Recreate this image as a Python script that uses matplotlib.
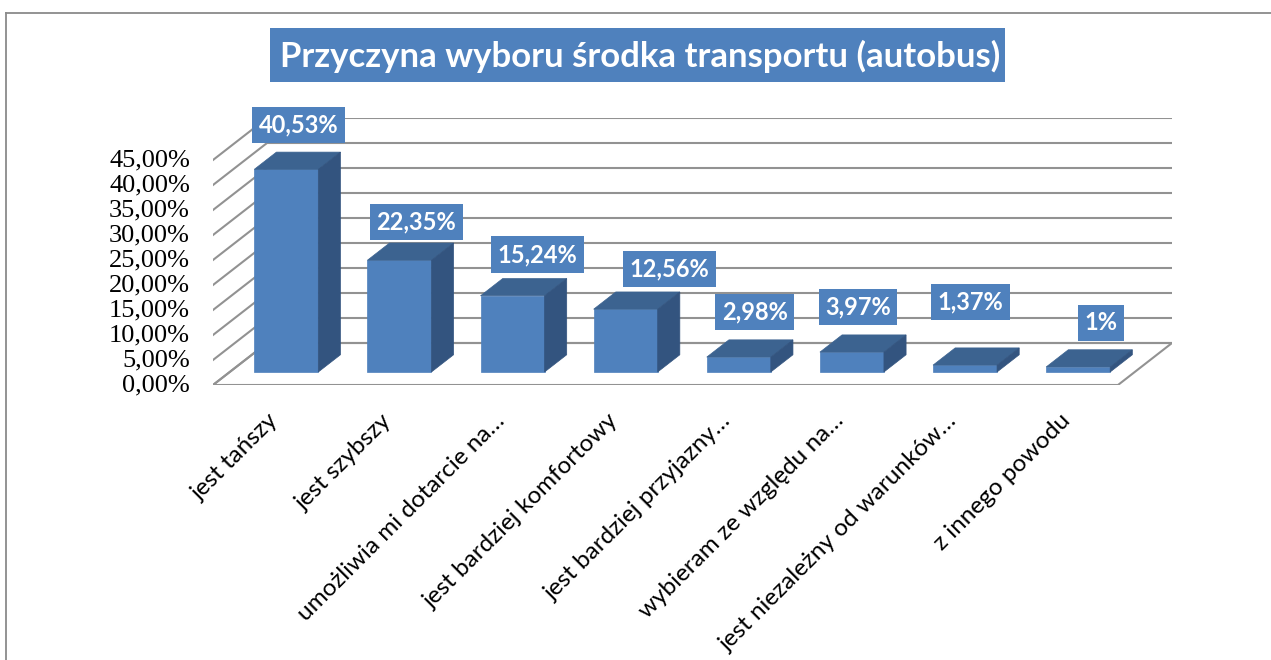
import matplotlib
matplotlib.use('Agg')
import matplotlib.pyplot as plt
import matplotlib.transforms as mtransforms
from matplotlib.patches import Polygon, Rectangle
from matplotlib.lines import Line2D

# Data
categories = [
    'jest tańszy',
    'jest szybszy',
    'umożliwia mi dotarcie na…',
    'jest bardziej komfortowy',
    'jest bardziej przyjazny…',
    'wybieram ze względu na…',
    'jest niezależny od warunków…',
    'z innego powodu',
]
values = [40.53, 22.35, 15.24, 12.56, 2.98, 3.97, 1.37, 1.0]
value_labels = ['40,53%', '22,35%', '15,24%', '12,56%', '2,98%', '3,97%', '1,37%', '1%']
y_ticks = [0, 5, 10, 15, 20, 25, 30, 35, 40, 45]
y_tick_labels = ['0,00%', '5,00%', '10,00%', '15,00%', '20,00%',
                 '25,00%', '30,00%', '35,00%', '40,00%', '45,00%']
title = 'Przyczyna wyboru środka transportu (autobus)'

# Layout (pixels of the 1271x660 picture)
W, H, DPI = 1271, 660, 100
FRONT_LEFT, BACK_RIGHT = 213, 1172
FLOOR_FRONT_Y, TOP_BACK_Y = 385, 118
SLOT_PX = 113.125
DEPTH_X = 54 / SLOT_PX       # depth shift in category units
DEPTH_Y = 42 / 5.0           # depth shift in percent units
BAR_W = 0.566
Z_FRONT, Z_BACK = 0.31, 0.72
# manual nudges of the value boxes (px right, px up), like in the original sheet
LABEL_NUDGE = [(1, 9), (6, 3), (14, 6), (33, 5), (5, 10), (-5, 10), (-6, 28), (12, 9)]

BLUE = '#4F81BD'
TOP_C = '#3C6390'
SIDE_C = '#33547F'
GRID_C = '#929292'


def fx(px):
    return px / W


def fy(py):
    return 1 - py / H


fig = plt.figure(figsize=(W / DPI, H / DPI), dpi=DPI)
fig.patch.set_facecolor('white')

# chart border (cut off at right and bottom)
fig.add_artist(Line2D([fx(6), 1.01], [fy(13), fy(13)], color='#8a8a8a', lw=1.3))
fig.add_artist(Line2D([fx(6), fx(6)], [fy(13), -0.01], color='#8a8a8a', lw=1.3))

# title box
fig.add_artist(Rectangle((fx(270), fy(82)), (1005 - 270) / W, 54 / H,
                         facecolor=BLUE, edgecolor='none'))
fig.text(fx(640), fy(56), title, color='white', fontsize=25, fontweight='bold',
         family='Lato', ha='center', va='center')

ax = fig.add_axes([fx(FRONT_LEFT), fy(FLOOR_FRONT_Y),
                   (BACK_RIGHT - FRONT_LEFT) / W, (FLOOR_FRONT_Y - TOP_BACK_Y) / H])
n = len(categories)
ax.set_xlim(0, n + DEPTH_X)
ax.set_ylim(0, max(y_ticks) + DEPTH_Y)
ax.set_axis_off()

# floor
ax.add_patch(Polygon([(0, 0), (n, 0), (n + DEPTH_X, DEPTH_Y), (DEPTH_X, DEPTH_Y)],
                     closed=True, facecolor='white', edgecolor=GRID_C, lw=1.5, zorder=1))

# back wall and side wall gridlines
for t in y_ticks:
    ax.plot([DEPTH_X, n + DEPTH_X], [t + DEPTH_Y, t + DEPTH_Y], color=GRID_C, lw=1.5, zorder=2)
    ax.plot([0, DEPTH_X], [t, t + DEPTH_Y], color=GRID_C, lw=1.5, zorder=2)

# bars drawn as three faces
for i, v in enumerate(values):
    x0 = i + 0.5 - BAR_W / 2
    x1 = x0 + BAR_W
    fdx, fdy = Z_FRONT * DEPTH_X, Z_FRONT * DEPTH_Y
    bdx, bdy = Z_BACK * DEPTH_X, Z_BACK * DEPTH_Y
    front = [(x0 + fdx, fdy), (x1 + fdx, fdy), (x1 + fdx, v + fdy), (x0 + fdx, v + fdy)]
    top = [(x0 + fdx, v + fdy), (x1 + fdx, v + fdy), (x1 + bdx, v + bdy), (x0 + bdx, v + bdy)]
    side = [(x1 + fdx, fdy), (x1 + bdx, bdy), (x1 + bdx, v + bdy), (x1 + fdx, v + fdy)]
    ax.add_patch(Polygon(front, closed=True, facecolor=BLUE, edgecolor=BLUE, lw=0.5, zorder=5))
    ax.add_patch(Polygon(top, closed=True, facecolor=TOP_C, edgecolor=TOP_C, lw=0.5, zorder=5))
    ax.add_patch(Polygon(side, closed=True, facecolor=SIDE_C, edgecolor=SIDE_C, lw=0.5, zorder=5))

    # value label box
    lab_fs = 17
    pad = 0.28
    pad_px = pad * lab_fs / 0.72
    ndx, ndy = LABEL_NUDGE[i]
    ax.annotate(value_labels[i],
                xy=(i + 0.5 + (Z_FRONT + Z_BACK) / 2 * DEPTH_X, v + bdy),
                xytext=(ndx * 0.72, (ndy + pad_px) * 0.72), textcoords='offset points',
                ha='center', va='bottom', color='white', fontsize=lab_fs,
                fontweight='bold', family='Lato', zorder=10,
                bbox=dict(boxstyle='square,pad=%g' % pad, facecolor=BLUE, edgecolor='none'))

# y tick labels on the front left edge
ytrans = ax.transData + mtransforms.ScaledTranslation(-23 / DPI, 0, fig.dpi_scale_trans)
for t, lab in zip(y_ticks, y_tick_labels):
    ax.text(0, t, lab, transform=ytrans, ha='right', va='center',
            fontsize=19, family='Liberation Serif', color='black')

# category labels under the floor
xtrans = ax.transData + mtransforms.ScaledTranslation(-2 / DPI, -25 / DPI, fig.dpi_scale_trans)
for i, cat in enumerate(categories):
    ax.text(i + 0.5, 0, cat, transform=xtrans, rotation=45, rotation_mode='anchor',
            ha='right', va='top', fontsize=17.5, family='Lato', color='black')

fig.savefig('out.png', dpi=DPI)
plt.close(fig)
